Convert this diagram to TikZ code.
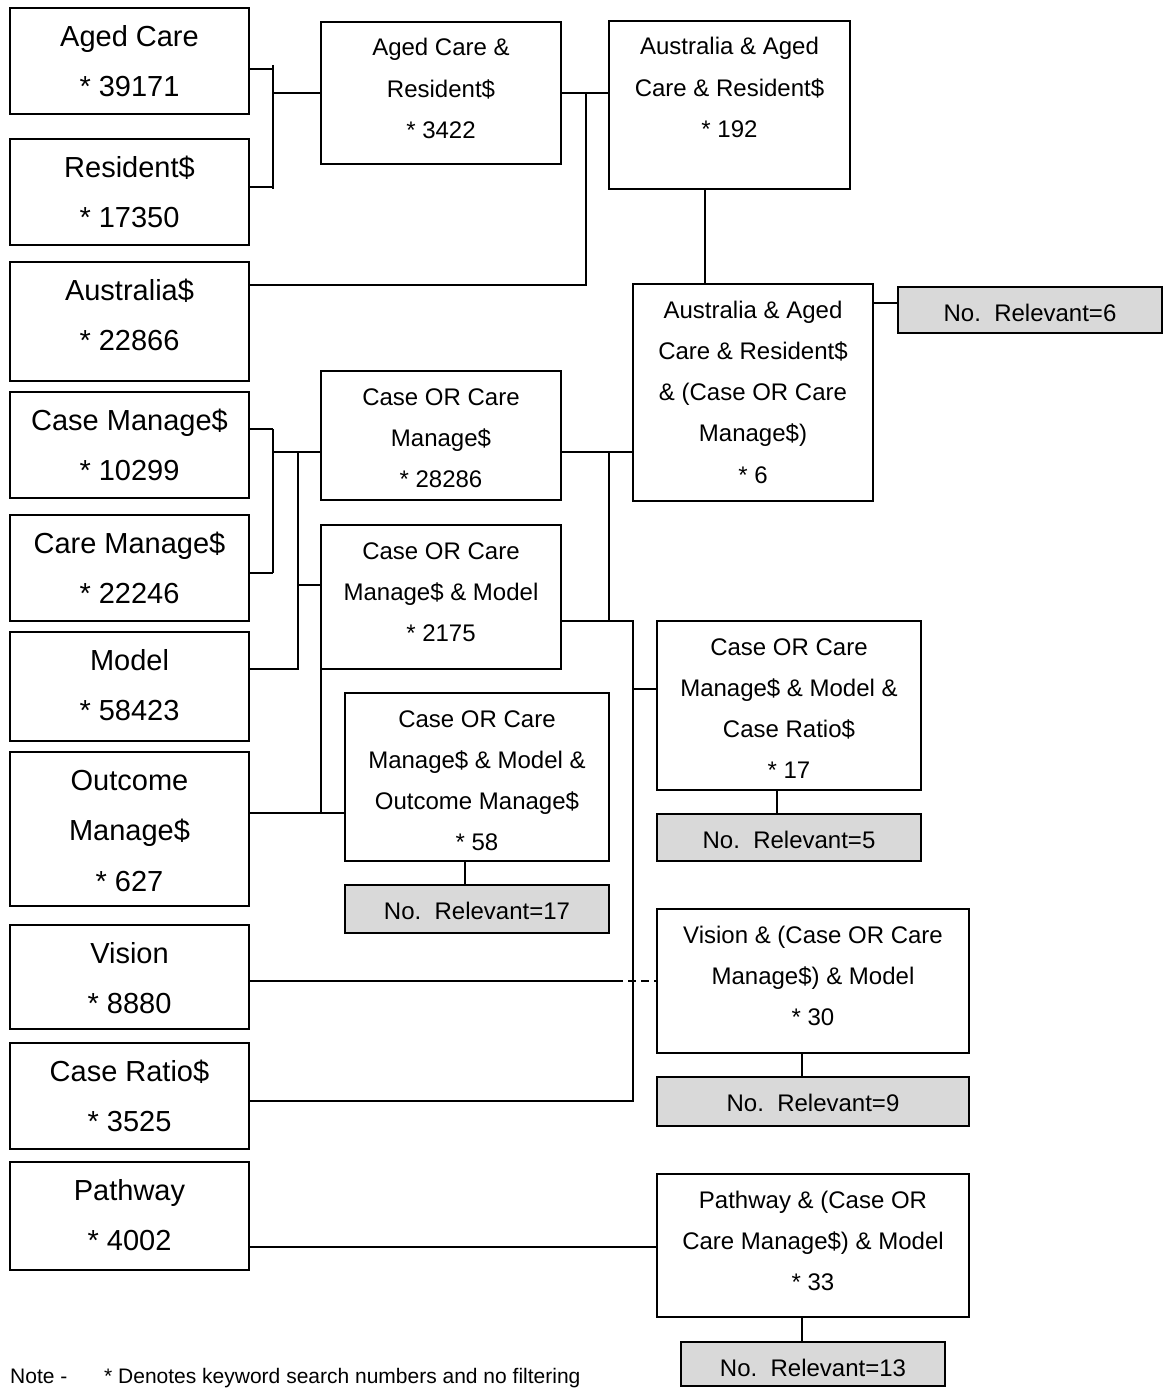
\documentclass[tikz,border=0pt]{standalone}
\usepackage{fontspec}
\setmainfont{Liberation Sans}
\definecolor{relgrey}{HTML}{D9D9D9}
% box contents: width, height, lines
\newcommand{\lefttext}[3]{\parbox[c][#2pt][t]{#1pt}{\centering\fontsize{29}{50.3}\selectfont\rule{0pt}{38.4pt}#3}}
\newcommand{\midtext}[3]{\parbox[c][#2pt][t]{#1pt}{\centering\fontsize{24}{41.3}\selectfont\rule{0pt}{34pt}#3}}
\tikzset{
  box/.style={draw, line width=1.6pt, inner sep=0pt, outer sep=0pt, anchor=north west},
  relbox/.style={box, fill=relgrey},
  link/.style={line width=1.6pt},
}
\begin{document}
\begin{tikzpicture}[x=1pt,y=-1pt]
\useasboundingbox (0,0) rectangle (1168,1388);
% keyword searches
\node[box] (aged) at (10,8) {\lefttext{239}{106}{Aged Care\\{}* 39171}};
\node[box] (resident) at (10,139) {\lefttext{239}{106}{Resident\$\\{}* 17350}};
\node[box] (australia) at (10,262) {\lefttext{239}{119}{Australia\$\\{}* 22866}};
\node[box] (casemgr) at (10,392) {\lefttext{239}{106}{Case Manage\$\\{}* 10299}};
\node[box] (caremgr) at (10,515) {\lefttext{239}{106}{Care Manage\$\\{}* 22246}};
\node[box] (model) at (10,632) {\lefttext{239}{109}{Model\\{}* 58423}};
\node[box] (outcome) at (10,752) {\lefttext{239}{154}{Outcome\\Manage\$\\{}* 627}};
\node[box] (vision) at (10,925) {\lefttext{239}{104}{Vision\\{}* 8880}};
\node[box] (ratio) at (10,1043) {\lefttext{239}{106}{Case Ratio\$\\{}* 3525}};
\node[box] (pathway) at (10,1162) {\lefttext{239}{108}{Pathway\\{}* 4002}};
% combined searches
\node[box] (acr) at (321,22) {\midtext{240}{142}{Aged Care \&\\Resident\$\\{}* 3422}};
\node[box] (aacr) at (609,21) {\midtext{241}{168}{Australia \& Aged\\Care \& Resident\$\\{}* 192}};
\node[box] (aacrc) at (633,284) {\midtext{240}{217}{Australia \& Aged\\Care \& Resident\$\\\& (Case OR Care\\Manage\$)\\{}* 6}};
\node[box] (cocm) at (321,371) {\midtext{240}{129}{Case OR Care\\Manage\$\\{}* 28286}};
\node[box] (cocmm) at (321,525) {\midtext{240}{144}{Case OR Care\\Manage\$ \& Model\\{}* 2175}};
\node[box] (cocmmo) at (345,693) {\midtext{264}{168}{Case OR Care\\Manage\$ \& Model \&\\Outcome Manage\$\\{}* 58}};
\node[box] (cocmmr) at (657,621) {\midtext{264}{169}{Case OR Care\\Manage\$ \& Model \&\\Case Ratio\$\\{}* 17}};
\node[box] (vis) at (657,909) {\midtext{312}{144}{Vision \& (Case OR Care\\Manage\$) \& Model\\{}* 30}};
\node[box] (path) at (657,1174) {\midtext{312}{143}{Pathway \& (Case OR\\Care Manage\$) \& Model\\{}* 33}};
% relevant counts
\node[relbox] (rel6) at (898,287) {\midtext{264}{46}{No.\ \ Relevant=6}};
\node[relbox] (rel17) at (345,885) {\midtext{264}{48}{No.\ \ Relevant=17}};
\node[relbox] (rel5) at (657,814) {\midtext{264}{47}{No.\ \ Relevant=5}};
\node[relbox] (rel9) at (657,1077) {\midtext{312}{49}{No.\ \ Relevant=9}};
\node[relbox] (rel13) at (681,1342) {\midtext{264}{44}{No.\ \ Relevant=13}};
% junctions
\coordinate (j1a) at (273,65);
\coordinate (j1b) at (273,189);
\coordinate (j2) at (586,93);
\coordinate (j3a) at (273,429);
\coordinate (j3b) at (273,573);
\coordinate (j4a) at (298,452);
\coordinate (j4b) at (298,669);
\coordinate (j5) at (321,813);
\coordinate (j6a) at (609,452);
\coordinate (j6b) at (609,621);
\coordinate (j7a) at (633,621);
\coordinate (j7b) at (633,1101);
\coordinate (j8) at (615,981);
\coordinate (j9) at (657,1247);
% connectors
\draw[link] ([yshift=-8pt]aged.east) -- ++(24,0);
\draw[link] ([yshift=5pt]resident.east) -- ++(24,0);
\draw[link] (j1a) -- (j1b);
\draw[link] (j1a |- acr.west) -- (acr.west);
\draw[link] (acr.east) -- (aacr.west |- acr.east);
\draw[link] (j2) |- ([yshift=36.5pt]australia.east);
\draw[link] ([xshift=-24.5pt]aacr.south) -- ([xshift=-48pt]aacrc.north);
\draw[link] ([yshift=7pt]rel6.west) -- ++(-25,0);
\draw[link] ([yshift=16pt]casemgr.east) -- ++(24,0);
\draw[link] ([yshift=-5pt]caremgr.east) -- ++(24,0);
\draw[link] (j3a) -- (j3b);
\draw[link] (j3a |- j4a) -- ([yshift=-16.5pt]cocm.west);
\draw[link] (j4a) -- (j4b) -- (model.east |- j4b);
\draw[link] ([yshift=12pt]cocmm.west) -- ++(-23,0);
\draw[link] (cocmm.south west) -- (j5);
\draw[link] (outcome.east |- j5) -- (cocmmo.west |- j5);
\draw[link] (cocm.east |- j6a) -- (aacrc.west |- j6a);
\draw[link] (j6a) -- (j6b);
\draw[link] (cocmm.east |- j7a) -- (j7a) -- (j7b) -- (ratio.east |- j7b);
\draw[link] ([yshift=16.5pt]cocmmr.west) -- ++(-24,0);
\draw[link] (vision.east |- j8) -- (j8);
\draw[link, dash pattern=on 8pt off 5pt] (j8) -- (vis.west |- j8);
\draw[link] (pathway.east |- j9) -- (j9);
\draw[link] ([xshift=-12pt]cocmmo.south) -- ([xshift=-12pt]rel17.north);
\draw[link] ([xshift=-12pt]cocmmr.south) -- ([xshift=-12pt]rel5.north);
\draw[link] ([xshift=-11pt]vis.south) -- ([xshift=-11pt]rel9.north);
\draw[link] ([xshift=-11pt]path.south) -- ([xshift=-11pt]rel13.north);
% note
\node[anchor=base west, inner sep=0pt] (note) at (10,1383) {\fontsize{21}{25}\selectfont Note -};
\node[anchor=base west, inner sep=0pt] (notetext) at (104,1383) {\fontsize{21}{25}\selectfont * Denotes keyword search numbers and no filtering};
\end{tikzpicture}
\end{document}
